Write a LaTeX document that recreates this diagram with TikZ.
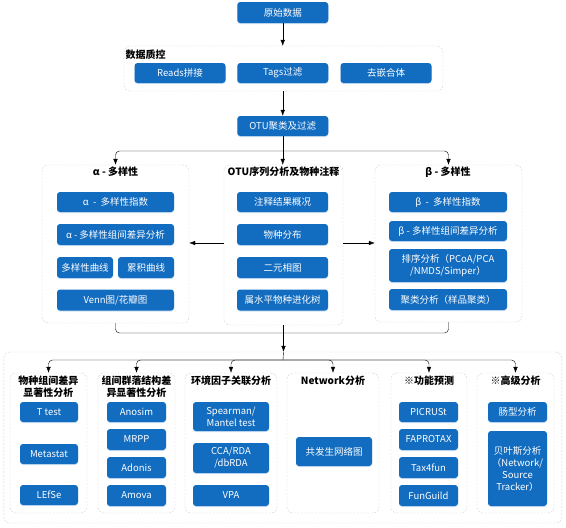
\documentclass[tikz,border=0pt]{standalone}
\usepackage{fontspec}
\setmainfont{Noto Sans CJK SC}
\usepackage{tikz}
\usetikzlibrary{arrows.meta, shadows}

\definecolor{boxblue}{RGB}{18,108,192}
\definecolor{grpgray}{RGB}{205,208,214}

\begin{document}
\begin{tikzpicture}[
    x=1pt, y=-1pt,
    box/.style={rectangle, rounded corners=3pt, fill=boxblue, text=white, inner sep=0pt,
        align=center, font=\fontsize{9.5}{12}\selectfont,
        drop shadow={shadow xshift=0pt, shadow yshift=-1pt, fill=boxblue!40, opacity=0.5}},
    grp/.style={rectangle, draw=grpgray, dash pattern=on 2pt off 1.5pt, rounded corners=6pt, inner sep=0pt},
    ttl/.style={font=\fontsize{10}{12.5}\selectfont\bfseries, align=center, inner sep=0pt},
    arr/.style={-{Latex[length=6pt,width=4.5pt]}, thin},
    line/.style={thin}
]
    \useasboundingbox (0,0) rectangle (566,528);

    % --- DATA + QC ---
    \node[box, minimum width=91pt, minimum height=21pt] (raw) at (282.75,12.5) {原始数据};
    \node[grp, minimum width=319pt, minimum height=45pt] (qcG) at (283.5,68.5) {};
    \node[ttl, anchor=west] (qcT) at (125.5,55) {数据质控};
    \node[box, minimum width=91pt, minimum height=20pt] (reads) at (180,73) {Reads拼接};
    \node[box, minimum width=91pt, minimum height=20pt] (tags) at (282.75,73) {Tags过滤};
    \node[box, minimum width=91pt, minimum height=20pt] (chim) at (386,73) {去嵌合体};
    \node[box, minimum width=91pt, minimum height=20pt] (otu) at (282.75,126) {OTU聚类及过滤};

    \draw[arr] (raw.south) -- (raw.south |- qcG.north);
    \draw[arr] (otu.north |- qcG.south) -- (otu.north);

    % --- ALPHA ---
    \node[grp, minimum width=147pt, minimum height=158pt] (alphaG) at (115.5,244) {};
    \node[ttl] (alphaT) at (115.5,172) {α - 多样性};
    \node[box, minimum width=117pt, minimum height=20pt] (aidx) at (115.5,202) {α\ \ -\ \ 多样性指数};
    \node[box, minimum width=117pt, minimum height=21pt] (adiff) at (115.5,234.5) {α - 多样性组间差异分析};
    \node[box, minimum width=56pt, minimum height=21pt] (acurve) at (85,267.5) {多样性曲线};
    \node[box, minimum width=56pt, minimum height=21pt] (accum) at (146,267.5) {累积曲线};
    \node[box, minimum width=117pt, minimum height=21pt] (venn) at (115.5,300) {Venn图/花瓣图};

    % --- OTU SEQUENCE ---
    \node[grp, minimum width=119pt, minimum height=160pt] (otuG) at (283.5,245) {};
    \node[ttl] (otuT) at (283.5,172) {OTU序列分析及物种注释};
    \node[box, minimum width=91pt, minimum height=20pt] (anno) at (282.5,202) {注释结果概况};
    \node[box, minimum width=91pt, minimum height=21pt] (dist) at (282.5,234.5) {物种分布};
    \node[box, minimum width=91pt, minimum height=21pt] (tern) at (282.5,267.5) {二元相图};
    \node[box, minimum width=91pt, minimum height=21pt] (tree) at (282.5,300) {属水平物种进化树};

    % --- BETA ---
    \node[grp, minimum width=147pt, minimum height=157pt] (betaG) at (448.5,243.5) {};
    \node[ttl] (betaT) at (448,172) {β - 多样性};
    \node[box, minimum width=118pt, minimum height=20pt] (bidx) at (448,202) {β\ \ -\ \ 多样性指数};
    \node[box, minimum width=118pt, minimum height=20pt] (bdiff) at (448,231) {β - 多样性组间差异分析};
    \node[box, minimum width=118pt, minimum height=33pt] (ord) at (448,265.5) {排序分析（PCoA/PCA\\/NMDS/Simper）};
    \node[box, minimum width=118pt, minimum height=21pt] (clus) at (448,299.5) {聚类分析（样品聚类）};

    \coordinate (sp1) at (282.75,151);
    \draw[arr] (otu.south) -- (otu.south |- otuG.north);
    \draw[arr, rounded corners=4pt] (sp1) -| (alphaG.north);
    \draw[arr, rounded corners=4pt] (sp1) -| (betaG.north);
    \draw[arr] (otuG.west |- 0,243) -- (alphaG.east |- 0,243);
    \draw[arr] (otuG.east |- 0,243) -- (betaG.west |- 0,243);

    % --- LOWER ANALYSES ---
    \node[grp, minimum width=558pt, minimum height=171pt] (allG) at (282.8,437.5) {};
    \coordinate (mrg) at (283,333);
    \coordinate (sp2) at (283,360);
    \draw[line, rounded corners=4pt] (alphaG.south) |- (mrg) -| (betaG.south);
    \draw[arr] (otuG.south) -- (otuG.south |- allG.north);
    \draw[line] (otuG.south |- allG.north) -- (sp2);

    \node[grp, minimum width=77pt, minimum height=140pt] (sg1) at (48.5,443) {};
    \node[ttl] (sg1T) at (48.5,386.5) {物种组间差异\\显著性分析};
    \node[box, minimum width=58pt, minimum height=20pt] (ttest) at (49,412) {T test};
    \node[box, minimum width=58pt, minimum height=20pt] (meta) at (49,454) {Metastat};
    \node[box, minimum width=58pt, minimum height=20pt] (lefse) at (49,495) {LEfSe};

    \node[grp, minimum width=77pt, minimum height=140pt] (sg2) at (136.5,443) {};
    \node[ttl] (sg2T) at (136.5,386.5) {组间群落结构差\\异显著性分析};
    \node[box, minimum width=59pt, minimum height=20pt] (anos) at (136.5,412) {Anosim};
    \node[box, minimum width=59pt, minimum height=21pt] (mrpp) at (136.5,439.5) {MRPP};
    \node[box, minimum width=59pt, minimum height=21pt] (adon) at (136.5,467.5) {Adonis};
    \node[box, minimum width=59pt, minimum height=21pt] (amov) at (136.5,495.5) {Amova};

    \node[grp, minimum width=92pt, minimum height=140pt] (sg3) at (231,443) {};
    \node[ttl] (sg3T) at (231,380.5) {环境因子关联分析};
    \node[box, minimum width=76pt, minimum height=29pt] (spear) at (231,416.5) {Spearman/\\Mantel test};
    \node[box, minimum width=76pt, minimum height=30pt] (cca) at (231,458) {CCA/RDA\\/dbRDA};
    \node[box, minimum width=76pt, minimum height=21pt] (vpa) at (231,495.5) {VPA};

    \node[grp, minimum width=92pt, minimum height=140pt] (sg4) at (333,443) {};
    \node[ttl] (sg4T) at (333,380.5) {Network分析};
    \node[box, minimum width=76pt, minimum height=29pt] (cooc) at (334,451.5) {共发生网络图};

    \node[grp, minimum width=76pt, minimum height=140pt] (sg5) at (429,443) {};
    \node[ttl] (sg5T) at (429,380.5) {※功能预测};
    \node[box, minimum width=59pt, minimum height=20pt] (picr) at (428.5,412) {PICRUSt};
    \node[box, minimum width=59pt, minimum height=21pt] (fapro) at (428.5,439.5) {FAPROTAX};
    \node[box, minimum width=59pt, minimum height=21pt] (t4f) at (428.5,467.5) {Tax4fun};
    \node[box, minimum width=59pt, minimum height=21pt] (fung) at (428.5,495.5) {FunGuild};

    \node[grp, minimum width=77pt, minimum height=140pt] (sg6) at (515.5,443) {};
    \node[ttl] (sg6T) at (515.5,380.5) {※高级分析};
    \node[box, minimum width=59pt, minimum height=20pt] (entero) at (517.5,412) {肠型分析};
    \node[box, minimum width=59pt, minimum height=75pt] (bayes) at (517.5,468.5) {贝叶斯分析\\（Network/\\Source\\Tracker）};

    \foreach \g in {sg1, sg2, sg3, sg4, sg5, sg6}
        \draw[arr, rounded corners=4pt] (sp2) -| (\g.north);
\end{tikzpicture}
\end{document}
